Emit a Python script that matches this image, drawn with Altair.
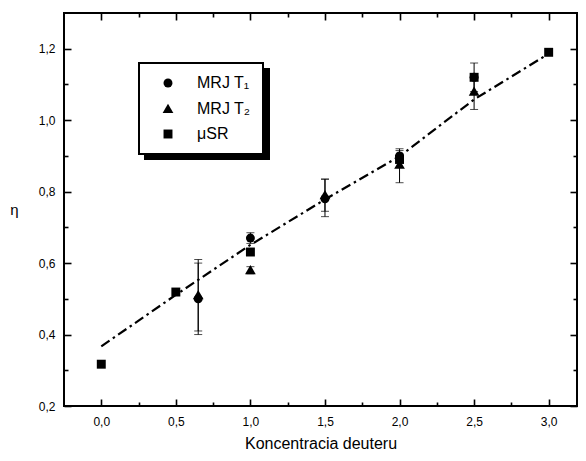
import altair as alt
import pandas as pd

series_names = ["MRJ T\u2081", "MRJ T\u2082", "\u03bcSR"]

t1_x = [0.65, 1.0, 1.5, 2.0, 2.5]
t1_y = [0.50, 0.67, 0.78, 0.90, 1.12]
t1_lo = [0.40, 0.655, 0.73, 0.885, 1.08]
t1_hi = [0.61, 0.685, 0.835, 0.915, 1.16]

t2_x = [0.65, 1.0, 1.5, 2.0, 2.5]
t2_y = [0.51, 0.58, 0.79, 0.875, 1.08]
t2_lo = [0.41, 0.57, 0.745, 0.825, 1.03]
t2_hi = [0.60, 0.59, 0.835, 0.92, 1.13]

musr_x = [0.0, 0.5, 1.0, 2.0, 2.5, 3.0]
musr_y = [0.317, 0.519, 0.631, 0.89, 1.12, 1.19]

fit_x = [0.0, 0.5, 1.0, 1.5, 2.0, 2.5, 3.0]
fit_y = [0.367, 0.511, 0.651, 0.778, 0.899, 1.058, 1.186]

x_major = [0.0, 0.5, 1.0, 1.5, 2.0, 2.5, 3.0]
x_minor = [0.25, 0.75, 1.25, 1.75, 2.25, 2.75]
y_major = [0.2, 0.4, 0.6, 0.8, 1.0, 1.2]
y_minor = [0.3, 0.5, 0.7, 0.9, 1.1]

FONT = "Liberation Sans"
TRIANGLE = "M0,-1.15L1.2,0.9L-1.2,0.9Z"

pts = pd.DataFrame(
    {"x": t1_x + t2_x + musr_x,
     "y": t1_y + t2_y + musr_y,
     "series": [series_names[0]] * len(t1_x) + [series_names[1]] * len(t2_x) + [series_names[2]] * len(musr_x)}
)
pts["grp"] = pts["series"] + " "

err = pd.DataFrame({"x": t1_x + t2_x, "lo": t1_lo + t2_lo, "hi": t1_hi + t2_hi})
caps = pd.DataFrame({"x": t1_x + t2_x + t1_x + t2_x, "v": t1_lo + t2_lo + t1_hi + t2_hi})
fit = pd.DataFrame({"x": fit_x, "y": fit_y})

xscale = alt.Scale(domain=[-0.25, 3.19], nice=False, zero=False)
yscale = alt.Scale(domain=[0.2, 1.3], nice=False, zero=False)

MAJ, MIN = 7, 4


def ticks_only(orient, values, size):
    return alt.Axis(orient=orient, values=values, labels=False, title=None, domain=False, grid=False,
                    offset=-size, tickSize=size, tickWidth=1.6, tickColor="black")


x_bottom = alt.Axis(orient="bottom", values=x_major, format=".1f", labelExpr="replace(datum.label, '.', ',')",
                    domain=False, grid=False, offset=-MAJ, tickSize=MAJ, tickWidth=1.6, tickColor="black",
                    labelFlush=False, labelOverlap=False,
                    labelPadding=10, labelFont=FONT, labelFontSize=12, labelColor="black",
                    title="Koncentracia deuteru", titleFont=FONT, titleFontSize=16,
                    titleFontWeight="normal", titleColor="black", titlePadding=8)
y_left = alt.Axis(orient="left", values=y_major, format=".1f", labelExpr="replace(datum.label, '.', ',')",
                  domain=False, grid=False, offset=-MAJ, tickSize=MAJ, tickWidth=1.6, tickColor="black",
                  labelFlush=False, labelOverlap=False,
                  labelPadding=9, labelFont=FONT, labelFontSize=12, labelColor="black",
                  title="\u03b7", titleFont=FONT, titleFontSize=15, titleFontWeight="normal",
                  titleColor="black", titleAngle=0, titleAlign="center", titleBaseline="middle",
                  titleX=-57, titleY=196)

rules = alt.Chart(err).mark_rule(color="black", strokeWidth=1).encode(
    x=alt.X("x:Q", scale=xscale, axis=x_bottom),
    y=alt.Y("lo:Q", scale=yscale, axis=y_left),
    y2="hi:Q",
)
capmarks = alt.Chart(caps).mark_tick(color="black", orient="horizontal", size=8, thickness=1).encode(
    x=alt.X("x:Q", scale=xscale, axis=ticks_only("bottom", x_minor, MIN)),
    y=alt.Y("v:Q", scale=yscale, axis=ticks_only("left", y_minor, MIN)),
)
line = alt.Chart(fit).mark_line(color="black", strokeWidth=2.2, strokeDash=[10, 4, 2.5, 4]).encode(
    x=alt.X("x:Q", scale=xscale, axis=ticks_only("top", x_major, MAJ)),
    y=alt.Y("y:Q", scale=yscale, axis=ticks_only("right", y_major, MAJ)),
)

leg_common = dict(orient="none", title=None, padding=12, rowPadding=9, labelFont=FONT,
                  labelFontSize=16, symbolOffset=9, labelOffset=21, symbolSize=80,
                  labelExpr="trim(datum.label) + '\u00a0\u00a0'")

points = alt.Chart(pts).mark_point(filled=True, opacity=1, size=80).encode(
    x=alt.X("x:Q", scale=xscale, axis=ticks_only("top", x_minor, MIN)),
    y=alt.Y("y:Q", scale=yscale, axis=ticks_only("right", y_minor, MIN)),
    shape=alt.Shape("series:N", scale=alt.Scale(domain=series_names, range=["circle", TRIANGLE, "square"]),
                    legend=alt.Legend(legendX=75, legendY=50, fillColor="white", strokeColor="black",
                                      labelColor="black", zindex=2, **leg_common)),
    color=alt.Color("grp:N", scale=alt.Scale(domain=[s + " " for s in series_names],
                                             range=["black", "black", "black"]),
                    legend=alt.Legend(legendX=81, legendY=56, fillColor="black", strokeColor="black",
                                      labelColor="black", labelOpacity=0, zindex=1, **leg_common)),
)

chart = alt.layer(rules, capmarks, line, points).resolve_axis(
    x="independent", y="independent"
).properties(
    width=513, height=393,
    padding={"left": 56, "top": 5, "right": 1, "bottom": 47},
    autosize=alt.AutoSizeParams(type="none"),
    background="white",
).configure_view(stroke="black", strokeWidth=2).configure_legend(strokeWidth=2)

chart.save("out.html", embed_options={"renderer": "svg", "actions": False})
